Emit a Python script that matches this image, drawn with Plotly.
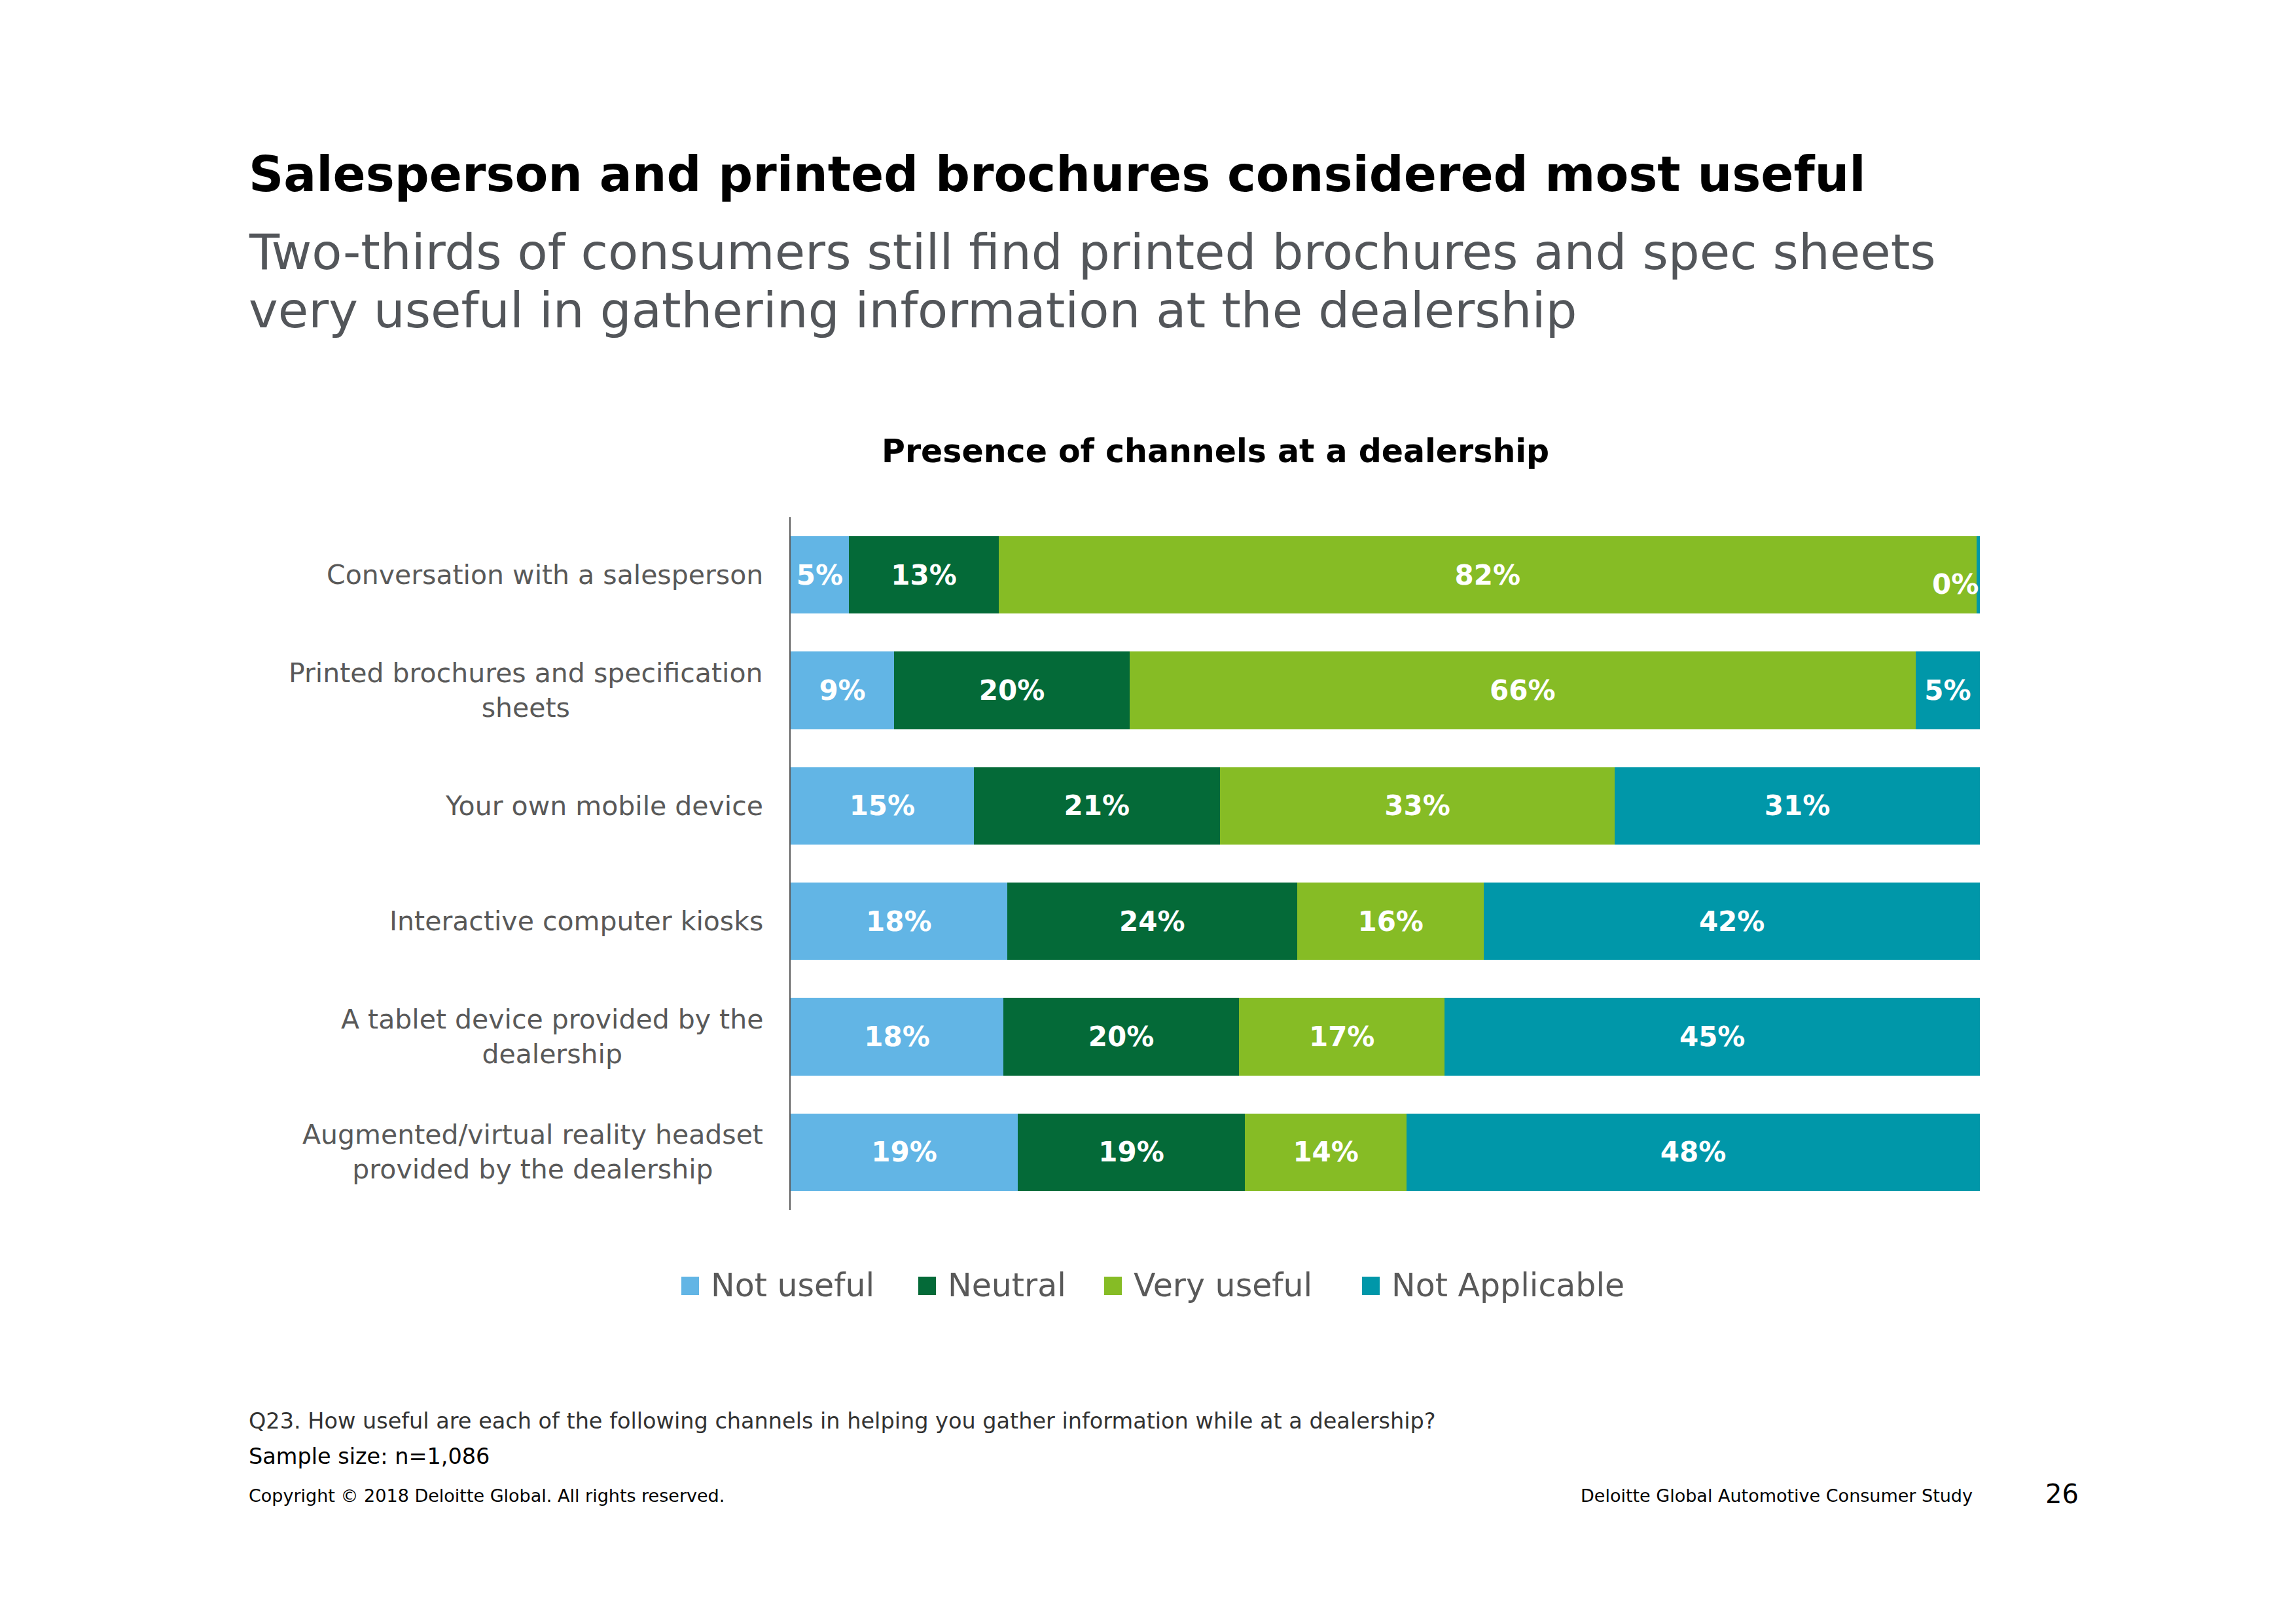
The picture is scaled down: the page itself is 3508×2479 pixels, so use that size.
import plotly.graph_objects as go

categories = [
    "Conversation with a salesperson",
    "Printed brochures and specification<br>sheets",
    "Your own mobile device",
    "Interactive computer kiosks",
    "A tablet device provided by the<br>dealership",
    "Augmented/virtual reality headset<br>provided by the dealership",
]
series_names = ["Not useful", "Neutral", "Very useful", "Not Applicable"]
not_useful = [4.9, 8.7, 15.4, 18.2, 17.9, 19.1]
neutral = [12.6, 19.8, 20.7, 24.4, 19.8, 19.1]
very_useful = [82.2, 66.1, 33.2, 15.7, 17.3, 13.6]
not_applicable = [0.3, 5.4, 30.7, 41.7, 45.0, 48.2]
colors = ["#62B5E5", "#046A38", "#86BC25", "#0097A9"]

W, H = 3508, 2479
L, R, T, B = 1208, 3025, 790, 1848
FONT = "DejaVu Sans"
BAR_FONT = 42


def px(x):
    return (x - L) / (R - L)


def py(y):
    return (B - y) / (B - T)


fig = go.Figure()
all_series = [not_useful, neutral, very_useful, not_applicable]
for name, vals, col in zip(series_names, all_series, colors):
    texts = [f"{round(v):d}%" if v >= 1 else "" for v in vals]
    fig.add_trace(go.Bar(
        name=name, y=categories, x=vals, orientation="h",
        marker=dict(color=col, line=dict(width=0)),
        text=texts, textposition="inside", insidetextanchor="middle",
        constraintext="none",
        textfont=dict(family=FONT, size=BAR_FONT, color="white", weight="bold"),
        hoverinfo="skip", showlegend=False,
    ))

# labels for slivers too thin to hold text
for i, cat in enumerate(categories):
    total = sum(s[i] for s in all_series)
    for s in all_series:
        if s[i] < 1:
            fig.add_annotation(x=total, y=cat, xref="x", yref="y",
                               text=f"{round(s[i]):d}%", showarrow=False,
                               xanchor="right", yanchor="middle", yshift=-14,
                               font=dict(family=FONT, size=BAR_FONT, color="white", weight="bold"))

# category labels
for cat in categories:
    fig.add_annotation(x=0, y=cat, xref="paper", yref="y", xshift=-40,
                       text=cat, showarrow=False, xanchor="right", yanchor="middle",
                       align="center", font=dict(family=FONT, size=41, color="#595959"))

# legend (square swatch + name)
legend_x = [1041, 1403, 1687, 2081]
for name, col, lx in zip(series_names, colors, legend_x):
    fig.add_shape(type="rect", xref="paper", yref="paper",
                  x0=px(lx), x1=px(lx + 27), y0=py(1978), y1=py(1950),
                  fillcolor=col, line=dict(width=0))
    fig.add_annotation(x=px(lx + 43), y=py(1963), xref="paper", yref="paper",
                       text=name, showarrow=False, xanchor="left", yanchor="middle",
                       font=dict(family=FONT, size=49, color="#595959"))

texts = [
    dict(x=378, y=266, text="<b>Salesperson and printed brochures considered most useful</b>",
         size=74, color="#000000", xa="left"),
    dict(x=378, y=385, text="Two-thirds of consumers still find printed brochures and spec sheets",
         size=75.5, color="#53565A", xa="left"),
    dict(x=378, y=474, text="very useful in gathering information at the dealership",
         size=75.5, color="#53565A", xa="left"),
    dict(x=1857, y=689, text="<b>Presence of channels at a dealership</b>", size=49, color="#000000", xa="center"),
    dict(x=378, y=2170, text="Q23. How useful are each of the following channels in helping you gather information while at a dealership?",
         size=33.5, color="#333333", xa="left"),
    dict(x=378, y=2224, text="Sample size: n=1,086", size=33.5, color="#000000", xa="left"),
    dict(x=378, y=2284, text="Copyright © 2018 Deloitte Global. All rights reserved.", size=27, color="#000000", xa="left"),
    dict(x=3016, y=2284, text="Deloitte Global Automotive Consumer Study", size=27, color="#000000", xa="right"),
    dict(x=3150, y=2282, text="26", size=40, color="#000000", xa="center"),
]
for t in texts:
    fig.add_annotation(x=px(t["x"]), y=py(t["y"]), xref="paper", yref="paper",
                       text=t["text"], showarrow=False, xanchor=t["xa"], yanchor="middle",
                       align="left", font=dict(family=FONT, size=t["size"], color=t["color"]))

fig.update_layout(
    width=W, height=H, barmode="stack", bargap=0.33,
    paper_bgcolor="white", plot_bgcolor="white",
    margin=dict(l=L, r=W - R, t=T, b=H - B, autoexpand=False),
    font=dict(family=FONT, color="#595959"),
    showlegend=False,
    xaxis=dict(range=[0, 100], showgrid=False, zeroline=False, showticklabels=False,
               showline=False, ticks=""),
    yaxis=dict(categoryorder="array", categoryarray=categories, autorange="reversed",
               showgrid=False, zeroline=False, showticklabels=False, ticks="",
               showline=True, linecolor="#595959", linewidth=2),
)

fig.write_html("out.html")
